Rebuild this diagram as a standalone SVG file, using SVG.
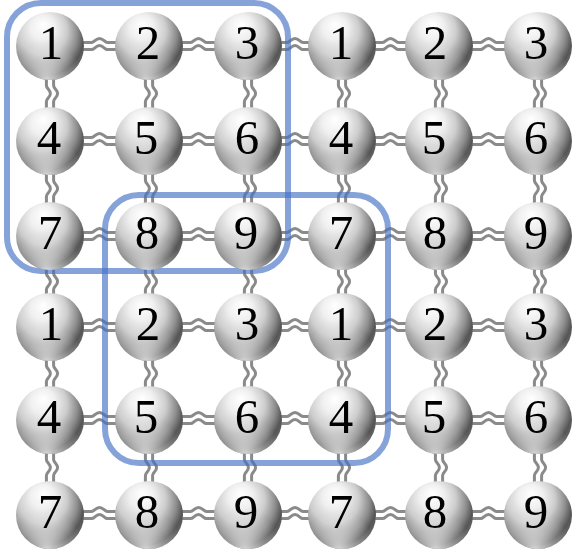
<svg xmlns="http://www.w3.org/2000/svg" xmlns:xlink="http://www.w3.org/1999/xlink" width="574" height="552" viewBox="0 0 574 552">
<style>
.bd path{fill:none;stroke:#8a8a8a;stroke-width:3}
.frame{fill:none;stroke:#4472C4;stroke-opacity:0.65;stroke-width:6}
.ball{fill:url(#sph)}
.gl{fill:url(#refl)}
.lbl{font-family:"Liberation Serif","DejaVu Serif",serif;font-size:49px;fill:#000;text-anchor:middle}
</style>
<defs>
<radialGradient id="sph" cx="0.38" cy="0.36" r="0.72" fx="0.4" fy="0.18">
<stop offset="0" stop-color="#ffffff"/>
<stop offset="0.25" stop-color="#f0f0f0"/>
<stop offset="0.5" stop-color="#cdcdcd"/>
<stop offset="0.72" stop-color="#8c8c8c"/>
<stop offset="0.86" stop-color="#555555"/>
<stop offset="1" stop-color="#6e6e6e"/>
</radialGradient>
<radialGradient id="refl" cx="0.45" cy="1" r="0.55">
<stop offset="0" stop-color="#ffffff" stop-opacity="0.75"/>
<stop offset="0.6" stop-color="#ffffff" stop-opacity="0.25"/>
<stop offset="1" stop-color="#ffffff" stop-opacity="0"/>
</radialGradient>
<g id="b" class="bd">
<path d="M-40,-3.6 H-8 c3,0 4,-4 8,-4 s5,4 8,4 H40"/>
<path d="M-40,3.6 H-8 c3,0 4,-4 8,-4 s5,4 8,4 H40"/>
</g>
<g id="s"><circle class="ball" r="34"/><circle class="gl" r="34"/></g>
</defs>
<rect width="574" height="552" fill="#fff"/>
<g id="connectors">
<use xlink:href="#b" transform="translate(99.5,46)"/><use xlink:href="#b" transform="translate(198.5,46)"/><use xlink:href="#b" transform="translate(295,46)"/><use xlink:href="#b" transform="translate(390.5,46)"/><use xlink:href="#b" transform="translate(488.5,46)"/>
<use xlink:href="#b" transform="translate(99.5,141)"/><use xlink:href="#b" transform="translate(198.5,141)"/><use xlink:href="#b" transform="translate(295,141)"/><use xlink:href="#b" transform="translate(390.5,141)"/><use xlink:href="#b" transform="translate(488.5,141)"/>
<use xlink:href="#b" transform="translate(99.5,236)"/><use xlink:href="#b" transform="translate(198.5,236)"/><use xlink:href="#b" transform="translate(295,236)"/><use xlink:href="#b" transform="translate(390.5,236)"/><use xlink:href="#b" transform="translate(488.5,236)"/>
<use xlink:href="#b" transform="translate(99.5,327)"/><use xlink:href="#b" transform="translate(198.5,327)"/><use xlink:href="#b" transform="translate(295,327)"/><use xlink:href="#b" transform="translate(390.5,327)"/><use xlink:href="#b" transform="translate(488.5,327)"/>
<use xlink:href="#b" transform="translate(99.5,420)"/><use xlink:href="#b" transform="translate(198.5,420)"/><use xlink:href="#b" transform="translate(295,420)"/><use xlink:href="#b" transform="translate(390.5,420)"/><use xlink:href="#b" transform="translate(488.5,420)"/>
<use xlink:href="#b" transform="translate(99.5,515)"/><use xlink:href="#b" transform="translate(198.5,515)"/><use xlink:href="#b" transform="translate(295,515)"/><use xlink:href="#b" transform="translate(390.5,515)"/><use xlink:href="#b" transform="translate(488.5,515)"/>
<use xlink:href="#b" transform="translate(50,93.5) rotate(90)"/><use xlink:href="#b" transform="translate(50,188.5) rotate(90)"/><use xlink:href="#b" transform="translate(50,281.5) rotate(90)"/><use xlink:href="#b" transform="translate(50,373.5) rotate(90)"/><use xlink:href="#b" transform="translate(50,467.5) rotate(90)"/>
<use xlink:href="#b" transform="translate(149,93.5) rotate(90)"/><use xlink:href="#b" transform="translate(149,188.5) rotate(90)"/><use xlink:href="#b" transform="translate(149,281.5) rotate(90)"/><use xlink:href="#b" transform="translate(149,373.5) rotate(90)"/><use xlink:href="#b" transform="translate(149,467.5) rotate(90)"/>
<use xlink:href="#b" transform="translate(248,93.5) rotate(90)"/><use xlink:href="#b" transform="translate(248,188.5) rotate(90)"/><use xlink:href="#b" transform="translate(248,281.5) rotate(90)"/><use xlink:href="#b" transform="translate(248,373.5) rotate(90)"/><use xlink:href="#b" transform="translate(248,467.5) rotate(90)"/>
<use xlink:href="#b" transform="translate(342,93.5) rotate(90)"/><use xlink:href="#b" transform="translate(342,188.5) rotate(90)"/><use xlink:href="#b" transform="translate(342,281.5) rotate(90)"/><use xlink:href="#b" transform="translate(342,373.5) rotate(90)"/><use xlink:href="#b" transform="translate(342,467.5) rotate(90)"/>
<use xlink:href="#b" transform="translate(439,93.5) rotate(90)"/><use xlink:href="#b" transform="translate(439,188.5) rotate(90)"/><use xlink:href="#b" transform="translate(439,281.5) rotate(90)"/><use xlink:href="#b" transform="translate(439,373.5) rotate(90)"/><use xlink:href="#b" transform="translate(439,467.5) rotate(90)"/>
<use xlink:href="#b" transform="translate(538,93.5) rotate(90)"/><use xlink:href="#b" transform="translate(538,188.5) rotate(90)"/><use xlink:href="#b" transform="translate(538,281.5) rotate(90)"/><use xlink:href="#b" transform="translate(538,373.5) rotate(90)"/><use xlink:href="#b" transform="translate(538,467.5) rotate(90)"/>
</g>
<g id="frames">
<rect class="frame" x="7" y="3" width="281" height="268" rx="34"/>
<rect class="frame" x="105" y="195" width="283" height="268" rx="34"/>
</g>
<g id="n11"><use xlink:href="#s" x="50" y="46"/><text class="lbl" x="51" y="59">1</text></g>
<g id="n12"><use xlink:href="#s" x="149" y="46"/><text class="lbl" x="148" y="59">2</text></g>
<g id="n13"><use xlink:href="#s" x="248" y="46"/><text class="lbl" x="247" y="59">3</text></g>
<g id="n14"><use xlink:href="#s" x="342" y="46"/><text class="lbl" x="341" y="59">1</text></g>
<g id="n15"><use xlink:href="#s" x="439" y="46"/><text class="lbl" x="435" y="59">2</text></g>
<g id="n16"><use xlink:href="#s" x="538" y="46"/><text class="lbl" x="536" y="59">3</text></g>
<g id="n21"><use xlink:href="#s" x="50" y="141"/><text class="lbl" x="49" y="154">4</text></g>
<g id="n22"><use xlink:href="#s" x="149" y="141"/><text class="lbl" x="146" y="154">5</text></g>
<g id="n23"><use xlink:href="#s" x="248" y="141"/><text class="lbl" x="247" y="154">6</text></g>
<g id="n24"><use xlink:href="#s" x="342" y="141"/><text class="lbl" x="341" y="154">4</text></g>
<g id="n25"><use xlink:href="#s" x="439" y="141"/><text class="lbl" x="434" y="154">5</text></g>
<g id="n26"><use xlink:href="#s" x="538" y="141"/><text class="lbl" x="536" y="154">6</text></g>
<g id="n31"><use xlink:href="#s" x="50" y="236"/><text class="lbl" x="50" y="249">7</text></g>
<g id="n32"><use xlink:href="#s" x="149" y="236"/><text class="lbl" x="147" y="249">8</text></g>
<g id="n33"><use xlink:href="#s" x="248" y="236"/><text class="lbl" x="246" y="249">9</text></g>
<g id="n34"><use xlink:href="#s" x="342" y="236"/><text class="lbl" x="341" y="249">7</text></g>
<g id="n35"><use xlink:href="#s" x="439" y="236"/><text class="lbl" x="435" y="249">8</text></g>
<g id="n36"><use xlink:href="#s" x="538" y="236"/><text class="lbl" x="536" y="249">9</text></g>
<g id="n41"><use xlink:href="#s" x="50" y="327"/><text class="lbl" x="51" y="340">1</text></g>
<g id="n42"><use xlink:href="#s" x="149" y="327"/><text class="lbl" x="148" y="340">2</text></g>
<g id="n43"><use xlink:href="#s" x="248" y="327"/><text class="lbl" x="247" y="340">3</text></g>
<g id="n44"><use xlink:href="#s" x="342" y="327"/><text class="lbl" x="341" y="340">1</text></g>
<g id="n45"><use xlink:href="#s" x="439" y="327"/><text class="lbl" x="435" y="340">2</text></g>
<g id="n46"><use xlink:href="#s" x="538" y="327"/><text class="lbl" x="536" y="340">3</text></g>
<g id="n51"><use xlink:href="#s" x="50" y="420"/><text class="lbl" x="49" y="433">4</text></g>
<g id="n52"><use xlink:href="#s" x="149" y="420"/><text class="lbl" x="146" y="433">5</text></g>
<g id="n53"><use xlink:href="#s" x="248" y="420"/><text class="lbl" x="247" y="433">6</text></g>
<g id="n54"><use xlink:href="#s" x="342" y="420"/><text class="lbl" x="341" y="433">4</text></g>
<g id="n55"><use xlink:href="#s" x="439" y="420"/><text class="lbl" x="434" y="433">5</text></g>
<g id="n56"><use xlink:href="#s" x="538" y="420"/><text class="lbl" x="536" y="433">6</text></g>
<g id="n61"><use xlink:href="#s" x="50" y="515"/><text class="lbl" x="50" y="528">7</text></g>
<g id="n62"><use xlink:href="#s" x="149" y="515"/><text class="lbl" x="147" y="528">8</text></g>
<g id="n63"><use xlink:href="#s" x="248" y="515"/><text class="lbl" x="246" y="528">9</text></g>
<g id="n64"><use xlink:href="#s" x="342" y="515"/><text class="lbl" x="341" y="528">7</text></g>
<g id="n65"><use xlink:href="#s" x="439" y="515"/><text class="lbl" x="435" y="528">8</text></g>
<g id="n66"><use xlink:href="#s" x="538" y="515"/><text class="lbl" x="536" y="528">9</text></g>
</svg>
